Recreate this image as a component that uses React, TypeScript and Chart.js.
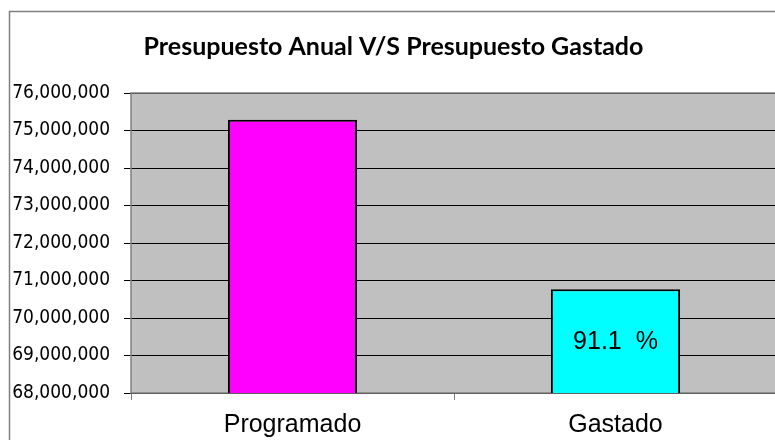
import React, { useEffect, useRef } from 'react';
import { Chart, registerables } from 'chart.js';

Chart.register(...registerables);

const titleText = 'Presupuesto Anual V/S Presupuesto Gastado';
const categories = ['Programado', 'Gastado'];
const budgetValues = [75290000, 70770000];
const barColors = ['#FF00FF', '#00FFFF'];
const barLabels = ['', '91.1  %'];
const yMin = 68000000;
const yMax = 76000000;
const yStep = 1000000;

export default function App() {
  const ref = useRef<HTMLCanvasElement>(null);

  useEffect(() => {
    if (!ref.current) return;
    const framePlugin = {
      id: 'framePlugin',
      beforeDraw(chart: any) {
        const { ctx, chartArea: a } = chart;
        ctx.save();
        ctx.fillStyle = '#ffffff';
        ctx.fillRect(0, 0, chart.width, chart.height);
        ctx.strokeStyle = '#808080';
        ctx.lineWidth = 1.5;
        ctx.strokeRect(9.5, 11.5, 776, 450);
        ctx.fillStyle = '#C0C0C0';
        ctx.fillRect(a.left, a.top, a.right - a.left, a.bottom - a.top);
        ctx.restore();
      },
      beforeDatasetsDraw(chart: any) {
        const { ctx, chartArea: a } = chart;
        ctx.save();
        ctx.strokeStyle = '#808080';
        ctx.lineWidth = 1.5;
        ctx.strokeRect(a.left, a.top, a.right - a.left, a.bottom - a.top);
        ctx.restore();
      },
      afterDraw(chart: any) {
        const { ctx } = chart;
        const xs = chart.scales.x;
        const ys = chart.scales.y;
        ctx.save();
        ctx.fillStyle = '#000000';
        ctx.font = '25px "Liberation Sans", Arial, sans-serif';
        ctx.textAlign = 'center';
        ctx.textBaseline = 'middle';
        barLabels.forEach((txt, i) => {
          if (!txt) return;
          const x = xs.getPixelForValue(i);
          const top = ys.getPixelForValue(budgetValues[i]);
          const base = ys.getPixelForValue(yMin);
          ctx.fillText(txt, x, (top + base) / 2 + 1);
        });
        ctx.restore();
      },
    };

    const chart = new Chart(ref.current, {
      type: 'bar',
      data: {
        labels: categories,
        datasets: [
          {
            data: budgetValues,
            backgroundColor: barColors,
            borderColor: '#000000',
            borderWidth: 2,
            barPercentage: 0.4,
            categoryPercentage: 1,
          },
        ],
      },
      options: {
        responsive: false,
        animation: false,
        layout: { padding: { left: 10, right: 13, top: 0, bottom: 0 } },
        plugins: {
          legend: { display: false },
          tooltip: { enabled: false },
          title: {
            display: true,
            text: titleText,
            color: '#000000',
            font: { family: 'Lato', weight: 'bold', size: 25 },
            padding: { top: 32, bottom: 31 },
          },
        },
        scales: {
          x: {
            grid: { offset: true, drawOnChartArea: false, color: '#808080', tickLength: 7 },
            border: { display: false },
            ticks: {
              color: '#000000',
              font: { family: '"Liberation Sans", Arial, sans-serif', size: 25 },
              padding: 10,
            },
            afterFit(s: any) {
              s.height = 47;
            },
          },
          y: {
            min: yMin,
            max: yMax,
            grid: { color: '#000000', tickLength: 7 },
            border: { display: false },
            ticks: {
              stepSize: yStep,
              color: '#000000',
              padding: 14,
              font: { family: '"DejaVu Sans Condensed", "Liberation Sans", sans-serif', size: 19 },
              callback: (v: any) => Number(v).toLocaleString('en-US'),
            },
            afterFit(s: any) {
              s.width = 121;
            },
          },
        },
      },
      plugins: [framePlugin],
    });
    return () => chart.destroy();
  }, []);

  return (
    <div style={{ position: 'fixed', left: 0, top: 0, width: 790, height: 440 }}>
      <canvas ref={ref} width={790} height={440} />
    </div>
  );
}
